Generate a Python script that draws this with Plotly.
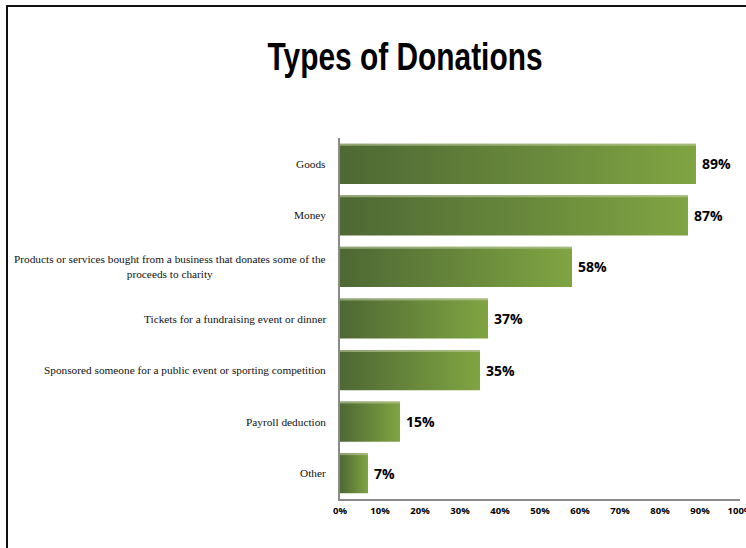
import plotly.graph_objects as go

# Survey results: share of respondents by type of donation
categories = [
    "Goods",
    "Money",
    "Products or services bought from a business that donates some of the<br>proceeds to charity",
    "Tickets for a fundraising event or dinner",
    "Sponsored someone for a public event or sporting competition",
    "Payroll deduction",
    "Other",
]
values = [89, 87, 58, 37, 35, 15, 7]
tick_values = [0, 10, 20, 30, 40, 50, 60, 70, 80, 90, 100]
tick_labels = [f"{t}%" for t in tick_values]

W, H = 746, 548
ML, MR, MT, MB = 340, 6, 138, 49
PW, PH = W - ML - MR, H - MT - MB

BAR_HALF = 0.39
DARK, LIGHT = "#4e6834", "#80a442"

fig = go.Figure()

# Each bar is a filled polygon so it can carry its own left-to-right gradient
for i, v in enumerate(values):
    fig.add_trace(go.Scatter(
        x=[0, v, v, 0, 0],
        y=[i - BAR_HALF, i - BAR_HALF, i + BAR_HALF, i + BAR_HALF, i - BAR_HALF],
        mode="lines",
        line=dict(width=0),
        fill="toself",
        fillgradient=dict(type="horizontal", colorscale=[[0, DARK], [1, LIGHT]]),
        hoverinfo="skip",
        showlegend=False,
    ))
    # soft highlight along the top edge of the bar
    fig.add_trace(go.Scatter(
        x=[0, v], y=[i - BAR_HALF + 0.02, i - BAR_HALF + 0.02],
        mode="lines", line=dict(color="rgba(190,205,160,0.6)", width=2),
        hoverinfo="skip", showlegend=False,
    ))

# Value labels just past the end of each bar
for i, v in enumerate(values):
    fig.add_annotation(
        x=v, y=i, xref="x", yref="y", text=f"{v}%", showarrow=False,
        xanchor="left", yanchor="middle", xshift=4,
        font=dict(family="Open Sans", size=14, color="#000000", weight="bold"),
    )

# Category labels, centred line-by-line and right-aligned to the axis
for i, c in enumerate(categories):
    fig.add_annotation(
        x=-12 / PW, xref="paper", y=i, yref="y",
        text=c, showarrow=False, xanchor="right", yanchor="middle", align="center",
        font=dict(family="Liberation Serif", size=11.3, color="#111111"),
    )

# Frame around the figure
fig.add_shape(
    type="rect", xref="paper", yref="paper",
    x0=(7 - ML) / PW, x1=1.2, y0=-0.3, y1=(H - MB - 6) / PH,
    line=dict(color="#111111", width=2), fillcolor="rgba(0,0,0,0)", layer="below",
)

fig.update_layout(
    width=W, height=H,
    margin=dict(l=ML, r=MR, t=MT, b=MB, autoexpand=False),
    paper_bgcolor="white", plot_bgcolor="white",
    title=dict(
        text="Types of Donations",
        x=405 / W, xanchor="center", xref="container",
        y=1 - 57 / H, yanchor="middle", yref="container",
        font=dict(family="Liberation Sans", size=38, color="#000000", weight="bold"),
    ),
    xaxis=dict(
        range=[0, 100], tickvals=tick_values, ticktext=tick_labels,
        showgrid=False, zeroline=False, automargin=False,
        showline=True, linecolor="#8a8a8a", linewidth=1.5,
        ticks="", ticklabelstandoff=2, ticklabeloverflow="allow",
        tickfont=dict(family="Open Sans", size=9.5, color="#000000", weight="bold"),
        fixedrange=True,
    ),
    yaxis=dict(
        range=[len(values) - 0.5, -0.5], automargin=False,
        showticklabels=False, showgrid=False, zeroline=False,
        showline=True, linecolor="#8a8a8a", linewidth=1.5,
        ticks="", fixedrange=True,
    ),
)

# Condense the heavy title glyphs to a narrow headline width
condense_title = """
var gd = document.getElementById('{plot_id}');
var t = gd.querySelector('.gtitle');
if (t) { t.setAttribute('textLength', '275'); t.setAttribute('lengthAdjust', 'spacingAndGlyphs'); }
"""

fig.write_html("out.html", post_script=condense_title)
